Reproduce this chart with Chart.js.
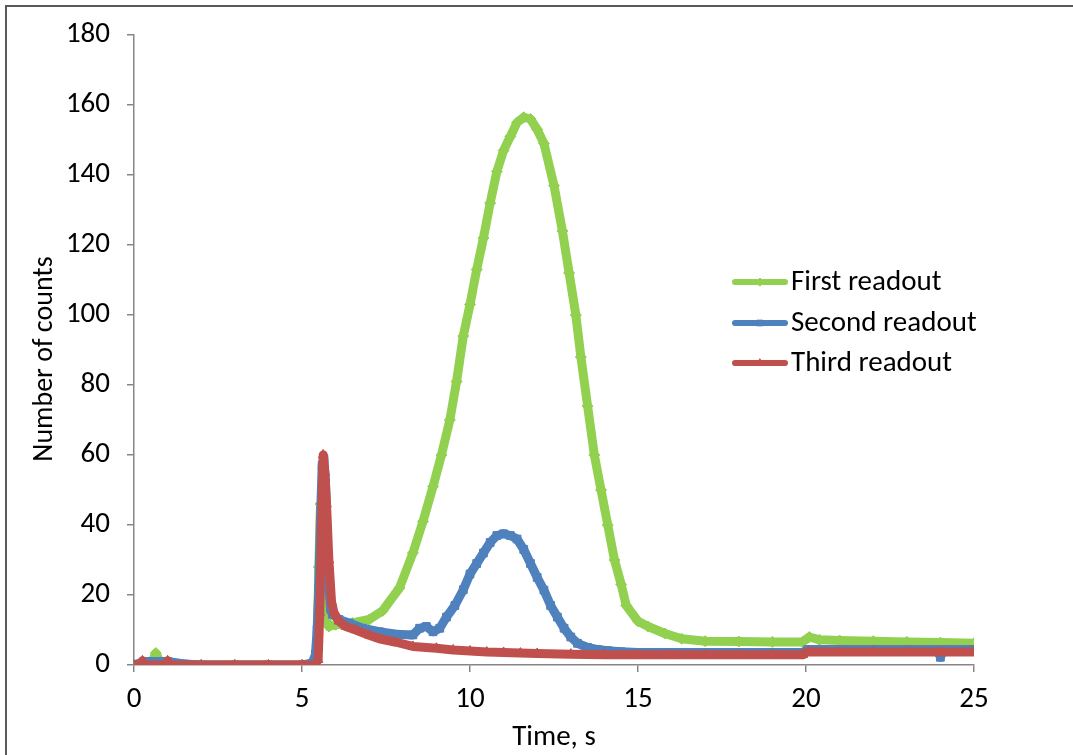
<!DOCTYPE html>
<html>
<head>
<meta charset="utf-8">
<script src="https://cdn.jsdelivr.net/npm/chart.js@4.4.1/dist/chart.umd.min.js"></script>
<style>
  html, body { margin: 0; padding: 0; background: #ffffff; }
  #c { display: block; }
</style>
</head>
<body>
<canvas id="c" width="1073" height="755"></canvas>
<script>
// ---- Data ----
const seriesNames = ["First readout", "Second readout", "Third readout"];

const firstTime = [0, 0.5, 0.65, 0.8, 1, 2, 3, 4, 5, 5.4, 5.45, 5.5, 5.55, 5.6, 5.65, 5.7, 5.8, 6.0, 6.5, 7.0, 7.4, 7.9, 8.3, 8.6, 8.9, 9.15, 9.4, 9.6, 9.8, 10.0, 10.2, 10.4, 10.6, 10.8, 11.0, 11.2, 11.4, 11.6, 11.8, 12.0, 12.2, 12.5, 12.75, 12.95, 13.15, 13.3, 13.5, 13.7, 13.9, 14.1, 14.3, 14.5, 14.65, 15.0, 15.3, 15.8, 16.3, 17, 18, 19, 19.9, 20.1, 20.4, 21, 22, 23, 24, 25];
const firstCounts = [0, 0, 3.4, 0.3, 0, 0, 0, 0, 0, 0, 4, 28, 46, 38, 22, 14, 11, 11.5, 12, 13, 15.5, 22, 32, 41, 51, 60, 70, 81, 94, 103, 113, 122, 132, 141, 147, 151, 155, 156.5, 156, 153, 149, 137, 124, 112, 100, 88, 74, 60, 50, 40, 30, 23, 17, 12.5, 11, 9, 7.5, 6.8, 6.7, 6.6, 6.6, 8, 7.2, 7, 6.8, 6.6, 6.4, 6.2];

const secondTime = [0, 0.3, 1, 1.5, 2, 3, 4, 5, 5.3, 5.4, 5.45, 5.5, 5.55, 5.6, 5.65, 5.7, 5.75, 5.8, 5.85, 5.9, 6.1, 6.4, 6.8, 7.3, 7.8, 8.3, 8.5, 8.7, 8.9, 9.1, 9.3, 9.55, 9.8, 10.0, 10.2, 10.4, 10.6, 10.8, 11.0, 11.2, 11.4, 11.6, 11.8, 12.0, 12.2, 12.4, 12.6, 12.8, 13.0, 13.2, 13.5, 13.8, 14.1, 14.5, 15, 16, 17, 18, 19, 19.9, 20.05, 21, 22, 23, 23.9, 24.0, 24.1, 25];
const secondCounts = [0, 1, 1, 0.3, 0, 0, 0, 0, 0.5, 3, 10, 22, 42, 57, 59, 52, 36, 22, 16, 14.5, 13, 12, 10.5, 9.5, 8.8, 8.6, 10.5, 11, 9.5, 10.5, 13.7, 17, 21.5, 26, 29, 32, 35, 37, 37.5, 37, 36, 33, 29, 25, 21.4, 17, 13.7, 10.5, 8, 6.2, 5, 4.4, 4.1, 3.8, 3.6, 3.6, 3.6, 3.6, 3.6, 3.6, 4.4, 4.4, 4.4, 4.4, 4.4, 2.2, 4.4, 4.4];

const thirdTime = [0, 0.2, 0.25, 0.3, 0.95, 1.0, 1.05, 2, 3, 4, 5, 5.4, 5.48, 5.53, 5.58, 5.63, 5.68, 5.73, 5.8, 5.88, 5.95, 6.1, 6.3, 6.6, 7.0, 7.3, 7.8, 8.3, 9.0, 9.5, 10, 10.5, 11, 11.5, 12, 13, 14, 15, 16, 17, 18, 19, 19.9, 20.05, 21, 22, 23, 24, 25];
const thirdCounts = [0, 0, 1.2, 0, 0, 1.2, 0, 0, 0, 0, 0, 0, 1.5, 15, 40, 60, 55, 46, 30, 18, 15, 12.5, 11, 10, 8.5, 7.5, 6.5, 5.3, 4.8, 4.3, 4, 3.7, 3.6, 3.4, 3.3, 3.1, 2.9, 2.9, 2.9, 2.9, 2.9, 2.9, 2.9, 3.8, 3.7, 3.7, 3.7, 3.7, 3.7];

const xTicks = [0, 5, 10, 15, 20, 25];
const yTicks = [0, 20, 40, 60, 80, 100, 120, 140, 160, 180];

// ---- Styles ----
const FONT = "Carlito, Calibri, Lato, 'Open Sans', sans-serif";
const FSIZE = 29;
const colors = ["#92D050", "#4F81BD", "#C0504D"];
const markers = ["rectRot", "rect", "triangle"];
const axisColor = "#868686";

function pairs(ts, vs) { return ts.map((t, i) => ({ x: t, y: vs[i] })); }

const dataSets = [
  pairs(firstTime, firstCounts),
  pairs(secondTime, secondCounts),
  pairs(thirdTime, thirdCounts)
];

const frameAndLegend = {
  id: "frameAndLegend",
  afterDraw(chart) {
    const ctx = chart.ctx;
    ctx.save();
    // outer frame
    ctx.strokeStyle = "#595959";
    ctx.lineWidth = 2;
    ctx.strokeRect(6, 6, 1200, 900);
    // y-axis title
    ctx.fillStyle = "#000000";
    ctx.font = "28px " + FONT;
    ctx.textAlign = "center";
    ctx.textBaseline = "middle";
    ctx.translate(45, 359);
    ctx.rotate(-Math.PI / 2);
    ctx.fillText("Number of counts", 0, 0);
    ctx.setTransform(1, 0, 0, 1, 0, 0);
    // legend
    const rows = [282, 323, 363];
    ctx.font = FSIZE + "px " + FONT;
    ctx.textBaseline = "middle";
    ctx.textAlign = "left";
    rows.forEach((y, i) => {
      ctx.strokeStyle = colors[i];
      ctx.lineWidth = 6;
      ctx.lineCap = "round";
      ctx.beginPath();
      ctx.moveTo(735, y);
      ctx.lineTo(785, y);
      ctx.stroke();
      ctx.fillStyle = colors[i];
      ctx.lineWidth = 1;
      Chart.helpers.drawPoint(ctx, { pointStyle: markers[i], radius: 4, borderWidth: 1 }, 760, y);
      ctx.fillStyle = "#000000";
      ctx.fillText(seriesNames[i], 791, y + 1);
    });
    ctx.restore();
  }
};

new Chart(document.getElementById("c"), {
  type: "line",
  data: {
    datasets: dataSets.map((d, i) => ({
      label: seriesNames[i],
      data: d,
      borderColor: colors[i],
      backgroundColor: colors[i],
      borderWidth: 9,
      borderJoinStyle: "round",
      borderCapStyle: "round",
      pointStyle: markers[i],
      pointRadius: 5.5,
      pointBorderWidth: 1,
      pointBorderColor: colors[i],
      pointBackgroundColor: colors[i],
      tension: 0,
      fill: false,
      order: 3 - i
    }))
  },
  options: {
    responsive: false,
    animation: false,
    layout: { padding: { top: 35, right: 99, left: 0, bottom: 0 } },
    plugins: {
      legend: { display: false },
      tooltip: { enabled: false }
    },
    scales: {
      x: {
        type: "linear",
        min: 0, max: 25,
        afterBuildTicks: s => { s.ticks = xTicks.map(v => ({ value: v })); },
        afterFit: s => { s.height = 90; },
        ticks: { color: "#000000", font: { family: FONT, size: FSIZE }, padding: 10, maxRotation: 0 },
        grid: { drawOnChartArea: false, drawTicks: true, tickLength: 7, color: axisColor, lineWidth: 1.5 },
        border: { color: axisColor, width: 1.5 },
        title: { display: true, text: "Time, s", color: "#000000", font: { family: FONT, size: FSIZE }, padding: { top: 0, bottom: 0 } }
      },
      y: {
        type: "linear",
        min: 0, max: 180,
        afterBuildTicks: s => { s.ticks = yTicks.map(v => ({ value: v })); },
        afterFit: s => { s.width = 134; },
        ticks: { color: "#000000", font: { family: FONT, size: FSIZE }, padding: 17 },
        grid: { drawOnChartArea: false, drawTicks: true, tickLength: 7, color: axisColor, lineWidth: 1.5 },
        border: { color: axisColor, width: 1.5 },
        title: { display: false }
      }
    }
  },
  plugins: [frameAndLegend]
});
</script>
</body>
</html>
